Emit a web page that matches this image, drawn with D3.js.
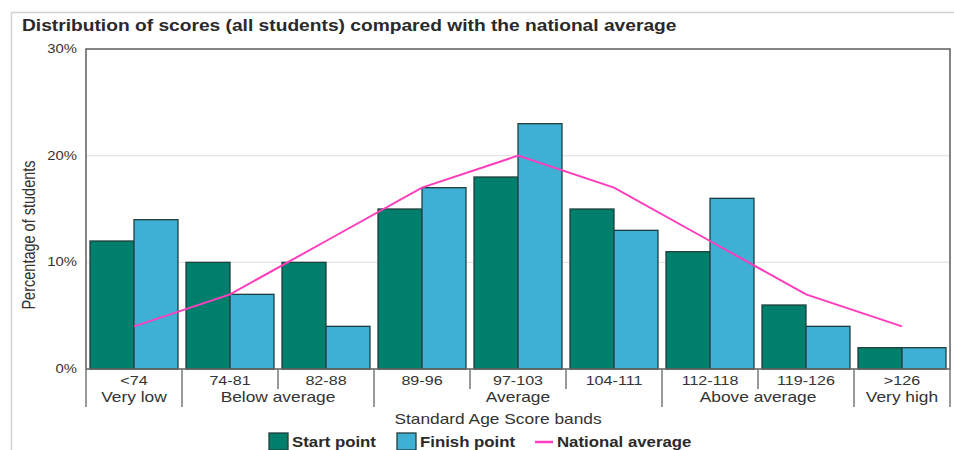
<!DOCTYPE html>
<meta charset="utf-8">
<script src="https://d3js.org/d3.v7.min.js"></script>
<style>
  body { margin: 0; background: #fff; }
  text { font-family: "Liberation Sans", Arial, sans-serif; fill: #333; }
</style>
<div id="chart"></div>
<script>

// data
var bands = ["<74", "74-81", "82-88", "89-96", "97-103", "104-111", "112-118", "119-126", ">126"];
var startPoint = [12, 10, 10, 15, 18, 15, 11, 6, 2];
var finishPoint = [14, 7, 4, 17, 23, 13, 16, 4, 2];
var nationalAvg = [4, 7, 12, 17, 20, 17, 12, 7, 4];
var groupNames = ["Very low", "Below average", "Average", "Above average", "Very high"];
var groupSizes = [1, 2, 3, 2, 1];
var yTicks = [0, 10, 20, 30];

var W = 954, H = 450;
var margin = {top: 49, right: 4, bottom: 81, left: 86};
var width = W - margin.left - margin.right,
    height = H - margin.top - margin.bottom;

// the source picture is a bit stretched sideways, so text gets widened too
var SX = 1.24, SXB = 1.2;
function place(x, y, s) {
  return "translate(" + x + "," + y + ") scale(" + (s || SX) + ",1)";
}

var svg = d3.select("#chart").append("svg")
    .attr("width", W)
    .attr("height", H);

// light frame around the whole picture
svg.append("path")
  .attr("d", "M11.5," + H + "V12.5H" + W)
  .attr("fill", "none")
  .attr("stroke", "#d4d4d4")
  .attr("stroke-width", 1.5);

svg.append("text")
  .attr("transform", place(22, 31, SXB))
  .style("font-size", "16px")
  .style("font-weight", "bold")
  .style("fill", "#2a2a2a")
  .text("Distribution of scores (all students) compared with the national average");

var g = svg.append("g")
  .attr("transform", "translate(" + margin.left + "," + margin.top + ")");

var x = d3.scaleBand().domain(bands).range([0, width]);
var keys = ["start", "finish"];
var xSub = d3.scaleBand().domain(keys).range([4, x.bandwidth() - 4]);
var y = d3.scaleLinear().domain([0, 30]).range([height, 0]);
var color = {start: "#007f6c", finish: "#3eb0d4"};

// gridlines
g.selectAll(".grid")
  .data(yTicks.slice(1, 3))
  .enter().append("line")
    .attr("x1", 0).attr("x2", width)
    .attr("y1", function(d) { return y(d); })
    .attr("y2", function(d) { return y(d); })
    .attr("stroke", "#e6e6e6")
    .attr("stroke-width", 1.2);

// y tick labels
g.selectAll(".ytick")
  .data(yTicks)
  .enter().append("text")
    .attr("transform", function(d) { return place(-9, y(d) + 4); })
    .attr("text-anchor", "end")
    .style("font-size", "12px")
    .text(function(d) { return d + "%"; });

svg.append("text")
  .attr("transform", "translate(35,235) rotate(-90) scale(1," + SX + ")")
  .attr("text-anchor", "middle")
  .style("font-size", "14.5px")
  .text("Percentage of students");

// bars
var rows = bands.map(function(b, i) {
  return {band: b, values: [{key: "start", v: startPoint[i]}, {key: "finish", v: finishPoint[i]}]};
});

var bandG = g.selectAll(".band")
  .data(rows)
  .enter().append("g")
    .attr("transform", function(d) { return "translate(" + x(d.band) + ",0)"; });

bandG.selectAll("rect")
  .data(function(d) { return d.values; })
  .enter().append("rect")
    .attr("x", function(d) { return xSub(d.key); })
    .attr("width", xSub.bandwidth())
    .attr("y", function(d) { return y(d.v); })
    .attr("height", function(d) { return height - y(d.v); })
    .attr("fill", function(d) { return color[d.key]; })
    .attr("stroke", "#21403d")
    .attr("stroke-width", 1.3);

// national average line
var line = d3.line()
  .x(function(d, i) { return x(bands[i]) + x.bandwidth() / 2; })
  .y(function(d) { return y(d); });

g.append("path")
  .datum(nationalAvg)
  .attr("d", line)
  .attr("fill", "none")
  .attr("stroke", "#ff3dbd")
  .attr("stroke-width", 2);

// plot border
g.append("rect")
  .attr("width", width).attr("height", height)
  .attr("fill", "none")
  .attr("stroke", "#666")
  .attr("stroke-width", 1.6);

// category labels and dividers
var groupEdges = [0];
groupSizes.forEach(function(s) { groupEdges.push(groupEdges[groupEdges.length - 1] + s); });

d3.range(bands.length + 1).forEach(function(i) {
  var xx = i * x.step();
  var isGroupEdge = groupEdges.indexOf(i) >= 0;
  g.append("line")
    .attr("x1", xx).attr("x2", xx)
    .attr("y1", height).attr("y2", height + (isGroupEdge ? 38 : 20))
    .attr("stroke", "#777")
    .attr("stroke-width", 1.5);
});

g.selectAll(".xlab")
  .data(bands)
  .enter().append("text")
    .attr("transform", function(d) { return place(x(d) + x.bandwidth() / 2, height + 16); })
    .attr("text-anchor", "middle")
    .style("font-size", "13px")
    .text(function(d) { return d; });

g.selectAll(".glab")
  .data(groupNames)
  .enter().append("text")
    .attr("transform", function(d, i) { return place((groupEdges[i] + groupEdges[i + 1]) / 2 * x.step(), height + 33); })
    .attr("text-anchor", "middle")
    .style("font-size", "14px")
    .text(function(d) { return d; });

svg.append("text")
  .attr("transform", place(498, 424))
  .attr("text-anchor", "middle")
  .style("font-size", "14px")
  .text("Standard Age Score bands");

// legend
var legend = svg.append("g").attr("transform", "translate(269,433)");
var legItems = [
  {label: "Start point", type: "rect", c: color.start, x: 0},
  {label: "Finish point", type: "rect", c: color.finish, x: 128},
  {label: "National average", type: "line", c: "#ff3dbd", x: 266}
];
legItems.forEach(function(d) {
  if (d.type === "rect") {
    legend.append("rect")
      .attr("x", d.x).attr("y", 0)
      .attr("width", 19).attr("height", 17)
      .attr("fill", d.c)
      .attr("stroke", "#21403d")
      .attr("stroke-width", 1.3);
  } else {
    legend.append("line")
      .attr("x1", d.x).attr("x2", d.x + 18)
      .attr("y1", 9).attr("y2", 9)
      .attr("stroke", d.c)
      .attr("stroke-width", 2.5);
  }
  legend.append("text")
    .attr("transform", place(d.x + (d.type === "rect" ? 23 : 22), 14, SXB))
    .style("font-size", "14px")
    .style("font-weight", "bold")
    .style("fill", "#2a2a2a")
    .text(d.label);
});

</script>
